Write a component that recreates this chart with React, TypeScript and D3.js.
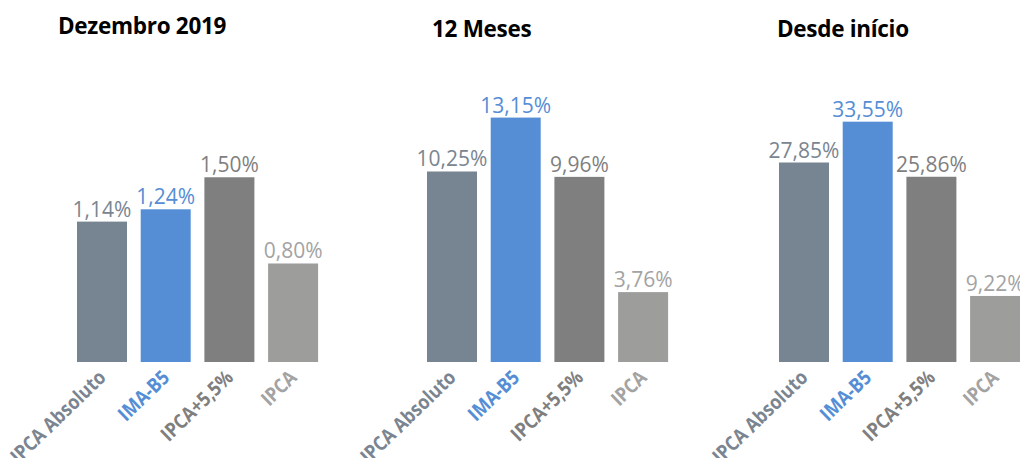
import * as d3 from "d3";
import { useEffect, useRef } from "react";

const categories = ["IPCA Absoluto", "IMA-B5", "IPCA+5,5%", "IPCA"];
const panelTitles = ["Dezembro 2019", "12 Meses", "Desde início"];
const dezembro2019 = [1.14, 1.24, 1.5, 0.8];
const dozeMeses = [10.25, 13.15, 9.96, 3.76];
const desdeInicio = [27.85, 33.55, 25.86, 9.22];
const panelData = [dezembro2019, dozeMeses, desdeInicio];
// per-panel axis maxima (each chart has its own scale)
const yMax = [2.03, 13.45, 34.9];

const barColors = ["#778491", "#558ED5", "#7F7F7F", "#9D9E9C"];
const labelColors = ["#7A8591", "#558ED5", "#7F7F7F", "#A3A3A3"];

const W = 1028;
const H = 466;
const baseY = 362;
const plotH = 250;
const panelX = [77, 427, 779];
const titlePos = [
  { x: 58, y: 34 },
  { x: 432, y: 37 },
  { x: 777, y: 37 },
];
const step = 63.7;
const padInner = 0.215;

export default function App() {
  const ref = useRef<SVGSVGElement | null>(null);

  useEffect(() => {
    if (!ref.current) return;
    const svg = d3.select(ref.current);
    svg.selectAll("*").remove();

    panelData.forEach((values, p) => {
      const x0 = panelX[p] - (step * padInner) / 2;
      const x = d3
        .scaleBand()
        .domain(categories)
        .range([x0, x0 + step * categories.length])
        .paddingInner(padInner)
        .paddingOuter(padInner / 2);

      const y = d3
        .scaleLinear()
        .domain([0, yMax[p]])
        .range([baseY, baseY - plotH]);

      const g = svg.append("g");

      g.append("text")
        .attr("x", titlePos[p].x)
        .attr("y", titlePos[p].y)
        .attr("font-family", "'Open Sans', sans-serif")
        .attr("font-weight", 700)
        .attr("font-size", 22.5)
        .attr("letter-spacing", -0.3)
        .attr("fill", "#000")
        .text(panelTitles[p]);

      g.selectAll("rect")
        .data(values)
        .join("rect")
        .attr("x", (_, i) => x(categories[i])!)
        .attr("y", (d) => y(d))
        .attr("width", x.bandwidth())
        .attr("height", (d) => y(0) - y(d))
        .attr("fill", (_, i) => barColors[i]);

      g.selectAll("text.val")
        .data(values)
        .join("text")
        .attr("class", "val")
        .attr("x", (_, i) => x(categories[i])! + x.bandwidth() / 2)
        .attr("y", (d) => y(d) - 5)
        .attr("text-anchor", "middle")
        .attr("font-family", "'Open Sans', sans-serif")
        .attr("font-size", 21)
        .attr("fill", (_, i) => labelColors[i])
        .text((d) => d.toFixed(2).replace(".", ",") + "%");

      // rotated category labels (squeezed to look condensed)
      g.selectAll("text.cat")
        .data(categories)
        .join("text")
        .attr("class", "cat")
        .attr("text-anchor", "end")
        .attr(
          "transform",
          (c) =>
            `translate(${x(c)! + x.bandwidth() / 2 + 5},${baseY + 17}) rotate(-44) scale(0.88,1)`
        )
        .attr("font-family", "'Open Sans', sans-serif")
        .attr("font-weight", 700)
        .attr("font-size", 20)
        .attr("fill", (_, i) => labelColors[i])
        .text((c) => c);
    });
  }, []);

  return <svg ref={ref} width={W} height={H} style={{ display: "block", margin: -8 }} />;
}
